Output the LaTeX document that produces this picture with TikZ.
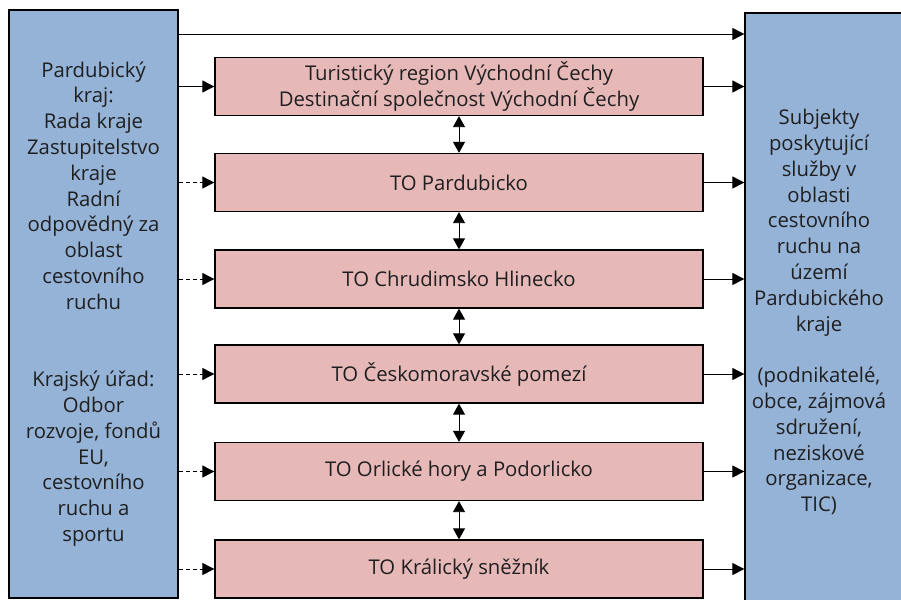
\documentclass[tikz,border=0pt]{standalone}
\usepackage{fontspec}
\setmainfont{Open Sans}
\usetikzlibrary{arrows.meta}

\definecolor{modra}{HTML}{95B3D7}
\definecolor{ruzova}{HTML}{E6B9B8}

\begin{document}
\begin{tikzpicture}
			[x=1pt,y=-1pt,
			every node/.style={draw=black, line width=1.3pt, inner sep=0pt,
				font=\fontsize{20.3}{25.8}\selectfont, text=black!88},
			to/.style={fill=ruzova, minimum width=488pt, minimum height=58pt,
				align=center},
			strana/.style={fill=modra, align=center},
			sip/.style={-{Triangle[length=12pt,width=12pt]}, line width=0.9pt},
			obasip/.style={{Triangle[length=11pt,width=12pt]}-{Triangle[length=11pt,width=12pt]},
				line width=0.9pt}]
		\useasboundingbox (0,0) rectangle (901,599);
		\clip (0,0) rectangle (901,599);

			%% krajske organy a subjekty
			\node [strana, minimum width=169pt, minimum height=588pt] (kraj) at (93.5,304)
				{Pardubický\\kraj:\\Rada kraje\\Zastupitelstvo\\kraje\\Radní\\odpovědný za\\oblast\\cestovního\\ruchu\\[51.6pt]
				Krajský úřad:\\Odbor\\rozvoje, fondů\\EU,\\cestovního\\ruchu a\\sportu};
			\node [strana, minimum width=180pt, minimum height=600pt] (subjekty) at (835,313)
				{\hspace*{-32pt}\begin{tabular}{@{}c@{}}Subjekty\\poskytující\\služby v\\oblasti\\cestovního\\ruchu na\\území\\Pardubického\\kraje\\[25.8pt]
				(podnikatelé,\\obce, zájmová\\sdružení,\\neziskové\\organizace,\\TIC)\end{tabular}};

			%% turisticke oblasti
			\node [to] (tr)  at (459,86.5) {Turistický region Východní Čechy\\Destinační společnost Východní Čechy};
			\node [to] (to1) at (459,182.5) {TO Pardubicko};
			\node [to] (to2) at (459,279)  {TO Chrudimsko Hlinecko};
			\node [to] (to3) at (459,374)  {TO Českomoravské pomezí};
			\node [to] (to4) at (459,471.5) {TO Orlické hory a Podorlicko};
			\node [to] (to5) at (459,569)  {TO Králický sněžník};

			\coordinate (nahore) at (460,34);

			\draw[sip] (kraj.east |- nahore) -- (subjekty.west |- nahore);
			\draw[sip] (kraj.east |- tr.west) -- (tr.west);

			\foreach \to in {to1,to2,to3,to4,to5}
			\draw[sip, dash pattern=on 4pt off 3pt] (kraj.east |- \to.west) -- (\to.west);

			\foreach \from in {tr,to1,to2,to3,to4,to5}
			\draw[sip] (\from.east) -- (subjekty.west |- \from.east);

			\foreach \from/\to in {tr/to1,to1/to2,to2/to3,to3/to4,to4/to5}
			\draw[obasip] (\from.south) -- (\to.north);
\end{tikzpicture}
\end{document}
